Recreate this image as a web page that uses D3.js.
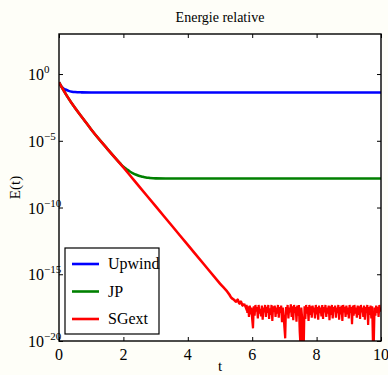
<!DOCTYPE html>
<html><head><meta charset="utf-8">
<script src="https://cdn.jsdelivr.net/npm/d3@7/dist/d3.min.js"></script>
<style>
html,body{margin:0;padding:0;background:#fefef8;}
svg{display:block;}
svg text{font-family:"Liberation Serif","DejaVu Serif",serif !important;}
</style></head>
<body>
<svg id="chart" width="388" height="375"></svg>
<script>
// ---- data (values are log10 E(t)) ----
const title = "Energie relative";
const xLabel = "t";
const yLabel = "E(t)";
const xTicks = [0, 2, 4, 6, 8, 10];
const yTickExps = [-20, -15, -10, -5, 0];
const seriesNames = ["Upwind", "JP", "SGext"];
const seriesColors = ["#0000ff", "#008000", "#ff0000"];

const upwindT = [0, 0.05, 0.1, 0.15, 0.2, 0.3, 0.4, 0.5, 0.7, 1.0, 2, 4, 6, 8, 10];
const upwindV = [-0.62, -0.85, -1.0, -1.1, -1.16, -1.26, -1.32, -1.35, -1.37, -1.38, -1.38, -1.38, -1.38, -1.38, -1.38];

const jpT = [0, 0.25, 0.5, 0.75, 1.0, 1.25, 1.5, 1.75, 1.9, 2.0, 2.1, 2.2, 2.3, 2.4, 2.5, 2.6, 2.7, 2.8, 3.0, 3.5, 4, 6, 8, 10];
const jpV = [-0.62, -1.65, -2.55, -3.35, -4.15, -4.9, -5.6, -6.3, -6.7, -6.95, -7.13, -7.3, -7.44, -7.55, -7.64, -7.7, -7.75, -7.78, -7.82, -7.83, -7.83, -7.83, -7.83, -7.83];

// SGext: smooth decay part
const sgT = [0, 0.25, 0.5, 0.75, 1.0, 1.5, 2.0, 2.5, 3.0, 3.5, 4.0, 4.5, 5.0, 5.3, 5.35, 5.4, 5.45, 5.5, 5.55, 5.6, 5.65, 5.7, 5.75];
const sgV = [-0.62, -1.65, -2.55, -3.35, -4.15, -5.6, -7.0, -8.45, -9.9, -11.35, -12.8, -14.25, -15.7, -16.55, -16.75, -16.85, -16.95, -17.05, -16.9, -17.2, -17.05, -17.35, -17.2];
// SGext: round-off noise floor, sampled every 0.025 from t = 5.8 to 10
const sgNoiseStart = 5.8, sgNoiseStep = 0.025;
const sgNoise = [
  -17.5,-17.3,-17.9,-17.4,-18.2,-17.35,-18.0,-17.5,-18.4,-19.05,
  -17.4,-18.1,-17.3,-17.8,-17.45,-18.3,-17.3,-17.95,-17.6,-18.15,
  -17.35,-18.4,-17.5,-17.85,-17.3,-18.2,-17.45,-17.9,-17.3,-18.35,
  -17.55,-18.05,-17.3,-18.5,-17.4,-17.8,-17.35,-18.2,-17.5,-17.95,
  -17.3,-18.25,-17.45,-17.9,-17.35,-18.6,-17.5,-18.1,-19.0,-19.8,
  -17.45,-18.0,-17.3,-18.3,-17.5,-17.85,-17.25,-18.2,-17.4,-18.45,
  -17.3,-17.9,-17.45,-18.55,-17.35,-18.1,-17.3,-19.3,-20.4,-17.5,
  -18.2,-20.3,-20.5,-17.4,-18.35,-17.3,-17.95,-17.45,-18.5,-17.3,
  -18.05,-17.4,-18.25,-17.35,-17.85,-17.5,-18.3,-17.3,-18.0,-17.45,
  -18.4,-17.35,-17.9,-17.5,-18.15,-17.3,-18.35,-17.45,-17.85,-17.3,
  -18.2,-17.5,-17.95,-17.35,-18.45,-17.4,-18.05,-17.3,-18.3,-17.45,
  -17.8,-17.35,-18.25,-17.5,-17.9,-17.3,-18.4,-17.45,-18.0,-17.35,
  -18.5,-17.3,-17.85,-17.45,-18.2,-17.35,-18.0,-17.5,-18.3,-17.3,
  -17.9,-17.45,-18.75,-17.35,-18.1,-17.3,-17.95,-17.5,-18.25,-17.35,
  -18.05,-17.4,-18.35,-17.3,-17.85,-17.5,-18.2,-17.35,-18.4,-17.45,
  -17.9,-17.3,-18.8,-17.45,-18.05,-17.35,-18.3,-17.4,-20.2,-20.3,
  -17.5,-18.1,-17.35,-17.9,-17.45,-18.2,-17.3,-17.8,-17.5
];

// ---- layout ----
const FONT = "'Liberation Serif', 'DejaVu Serif', serif";
const L = 59, R = 381, T = 34, B = 341;
const svg = d3.select("#chart");
const x = d3.scaleLinear().domain([0, 10]).range([L, R]);
const y = d3.scaleLog().domain([1e-20, 1e3]).range([B, T]);

svg.append("rect").attr("x", L).attr("y", T).attr("width", R - L).attr("height", B - T).attr("fill", "#fff");

svg.append("defs").append("clipPath").attr("id", "clip")
  .append("rect").attr("x", L).attr("y", T).attr("width", R - L).attr("height", B - T);

const yv = d => y(Math.pow(10, d[1]));
const smooth = d3.line().x(d => x(d[0])).y(yv).curve(d3.curveMonotoneX);
const straight = d3.line().x(d => x(d[0])).y(yv);

const g = svg.append("g").attr("clip-path", "url(#clip)");
const upPts = upwindT.map((t, k) => [t, upwindV[k]]);
const jpPts = jpT.map((t, k) => [t, jpV[k]]);
const sgPts = sgT.map((t, k) => [t, sgV[k]]);
const noisePts = [sgPts[sgPts.length - 1]].concat(sgNoise.map((v, k) => [sgNoiseStart + k * sgNoiseStep, v]));

g.append("path").datum(upPts).attr("d", smooth).attr("fill", "none").attr("stroke", seriesColors[0]).attr("stroke-width", 2.6);
g.append("path").datum(jpPts).attr("d", smooth).attr("fill", "none").attr("stroke", seriesColors[1]).attr("stroke-width", 2.6);
g.append("path").datum(sgPts).attr("d", smooth).attr("fill", "none").attr("stroke", seriesColors[2]).attr("stroke-width", 2.6);
g.append("path").datum(noisePts).attr("d", straight).attr("fill", "none").attr("stroke", seriesColors[2]).attr("stroke-width", 2.2);

// axes (ticks inward)
const yTickVals = yTickExps.map(e => Math.pow(10, e));
const axStyle = sel => { sel.select(".domain").remove(); sel.selectAll("line").attr("stroke", "#000").attr("stroke-width", 1); sel.selectAll("text").remove(); };
svg.append("g").attr("transform", `translate(0,${B})`).call(d3.axisBottom(x).tickValues(xTicks).tickSize(-4)).call(axStyle);
svg.append("g").attr("transform", `translate(0,${T})`).call(d3.axisTop(x).tickValues(xTicks).tickSize(-4)).call(axStyle);
svg.append("g").attr("transform", `translate(${L},0)`).call(d3.axisLeft(y).tickValues(yTickVals).tickSize(-4)).call(axStyle);
svg.append("g").attr("transform", `translate(${R},0)`).call(d3.axisRight(y).tickValues(yTickVals).tickSize(-4)).call(axStyle);

svg.append("rect").attr("x", L).attr("y", T).attr("width", R - L).attr("height", B - T)
  .attr("fill", "none").attr("stroke", "#000").attr("stroke-width", 1.4);

const txt = (sel) => sel.style("font-family", FONT).attr("fill", "#000");

// tick labels
xTicks.forEach(v => {
  svg.append("text").call(txt).attr("x", x(v)).attr("y", B + 19).attr("text-anchor", "middle")
    .attr("font-size", 16).text(v);
});
yTickExps.forEach(e => {
  const t = svg.append("text").call(txt).attr("x", 28).attr("y", y(Math.pow(10, e)) + 6).attr("font-size", 16);
  t.append("tspan").text("10");
  t.append("tspan").attr("dy", -7).attr("font-size", 11).text(e === 0 ? "0" : "\u2212" + Math.abs(e));
});

// title and labels
svg.append("text").call(txt).attr("x", (L + R) / 2).attr("y", 22).attr("text-anchor", "middle").attr("font-size", 14).text(title);
svg.append("text").call(txt).attr("x", (L + R) / 2).attr("y", 371).attr("text-anchor", "middle").attr("font-size", 15).text(xLabel);
svg.append("text").call(txt).attr("transform", `translate(20,${(T + B) / 2}) rotate(-90)`).attr("text-anchor", "middle").attr("font-size", 15).text(yLabel);

// legend
const lg = svg.append("g");
lg.append("rect").attr("x", 65).attr("y", 248).attr("width", 94).attr("height", 86)
  .attr("fill", "#fff").attr("stroke", "#000").attr("stroke-width", 1.2);
seriesNames.forEach((n, i) => {
  const yy = 264 + i * 27.5;
  lg.append("line").attr("x1", 72).attr("x2", 99).attr("y1", yy).attr("y2", yy)
    .attr("stroke", seriesColors[i]).attr("stroke-width", 2.6);
  lg.append("text").call(txt).attr("x", 108).attr("y", yy + 5).attr("font-size", 16).text(n);
});
</script>
</body></html>
